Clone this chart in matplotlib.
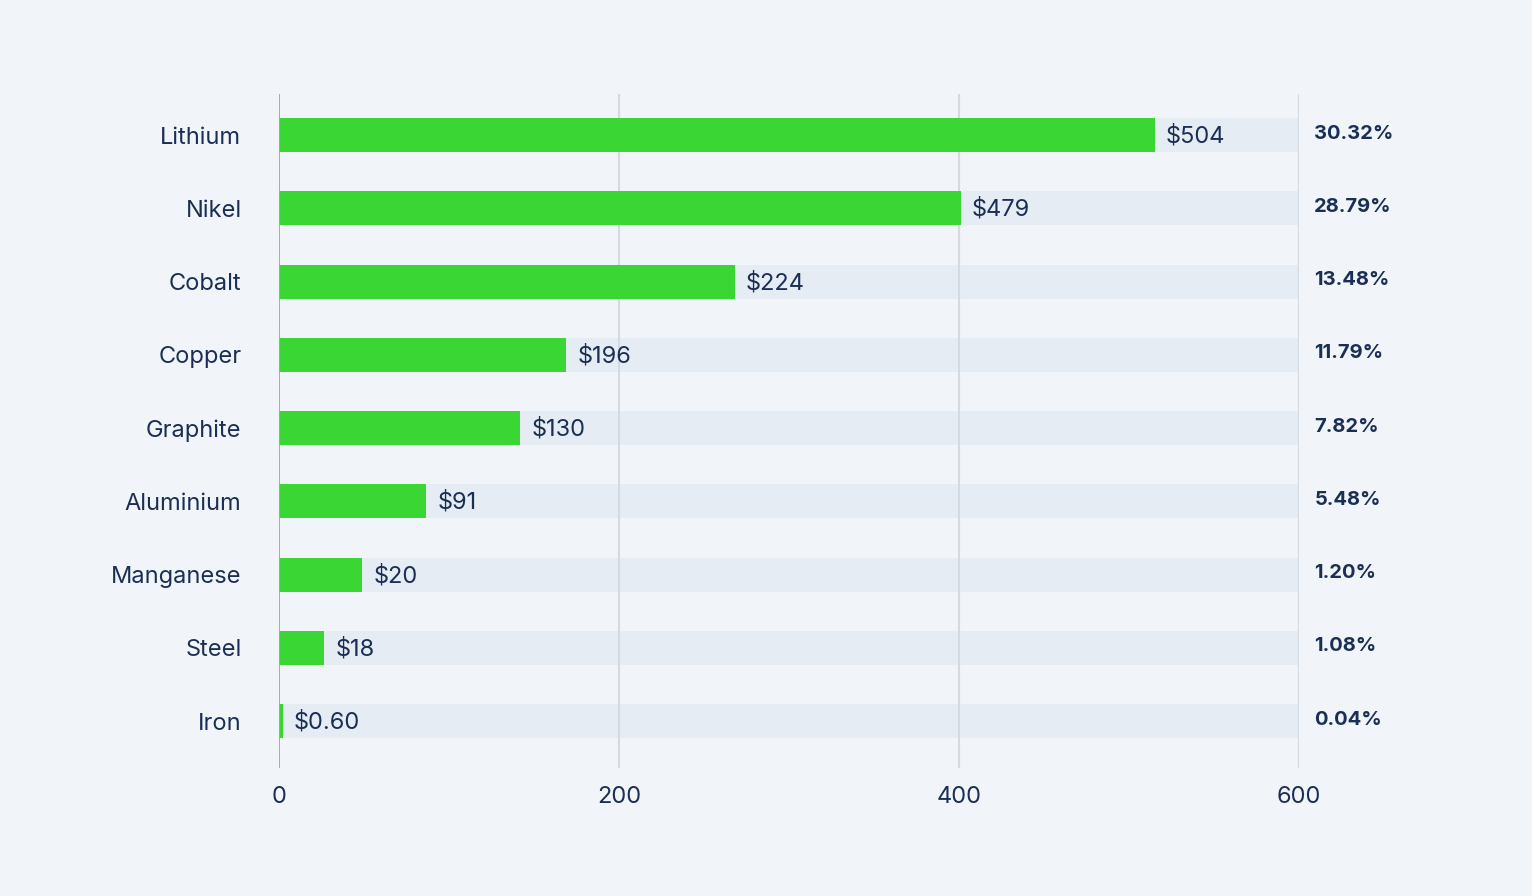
import matplotlib.pyplot as plt

# data
metals = ["Lithium", "Nikel", "Cobalt", "Copper", "Graphite",
          "Aluminium", "Manganese", "Steel", "Iron"]
bar_values = [515, 401, 268, 169, 142, 86.5, 49, 26.5, 2.2]
price_labels = ["$504", "$479", "$224", "$196", "$130", "$91", "$20", "$18", "$0.60"]
share_labels = ["30.32%", "28.79%", "13.48%", "11.79%", "7.82%",
                "5.48%", "1.20%", "1.08%", "0.04%"]
x_ticks = [0, 200, 400, 600]
x_max = 600

bg = "#f1f5f9"
green = "#39d634"
track = "#e5ecf3"
navy = "#1b2f55"

plt.rcParams["font.family"] = ["Inter", "DejaVu Sans"]

fig = plt.figure(figsize=(15.32, 8.96), dpi=100, facecolor=bg)
ax = fig.add_axes([279 / 1532, 128 / 896, 1020 / 1532, 674 / 896])
ax.set_facecolor(bg)

ypos = list(range(len(metals)))
ax.barh(ypos, [x_max] * len(metals), height=0.464, color=track, zorder=1)
ax.barh(ypos, bar_values, height=0.464, color=green, zorder=3)

for x in x_ticks[1:]:
    ax.axvline(x, color="#d3dae2", lw=1.5, zorder=2)
ax.axvline(0, color="#9aa6b4", lw=1.3, zorder=4)

for y, v, lab, pct in zip(ypos, bar_values, price_labels, share_labels):
    ax.annotate(lab, (v, y), xytext=(8, -1), textcoords="offset points",
                va="center", ha="left", fontsize=17, color=navy, zorder=5)
    ax.annotate(pct, (x_max, y), xytext=(11, 1), textcoords="offset points",
                va="center", ha="left", fontsize=14.5, fontweight="bold",
                color=navy, annotation_clip=False)

ax.set_xlim(0, x_max)
ax.set_ylim(len(metals) - 1 + 0.64, -0.56)
ax.set_xticks(x_ticks)
ax.set_xticklabels([str(t) for t in x_ticks])
ax.set_yticks(ypos)
ax.set_yticklabels(metals)
ax.tick_params(axis="both", length=0, labelsize=17, labelcolor=navy)
ax.tick_params(axis="y", pad=27)
ax.tick_params(axis="x", pad=13)
for s in ax.spines.values():
    s.set_visible(False)

fig.savefig("out.png", dpi=100, facecolor=bg)
